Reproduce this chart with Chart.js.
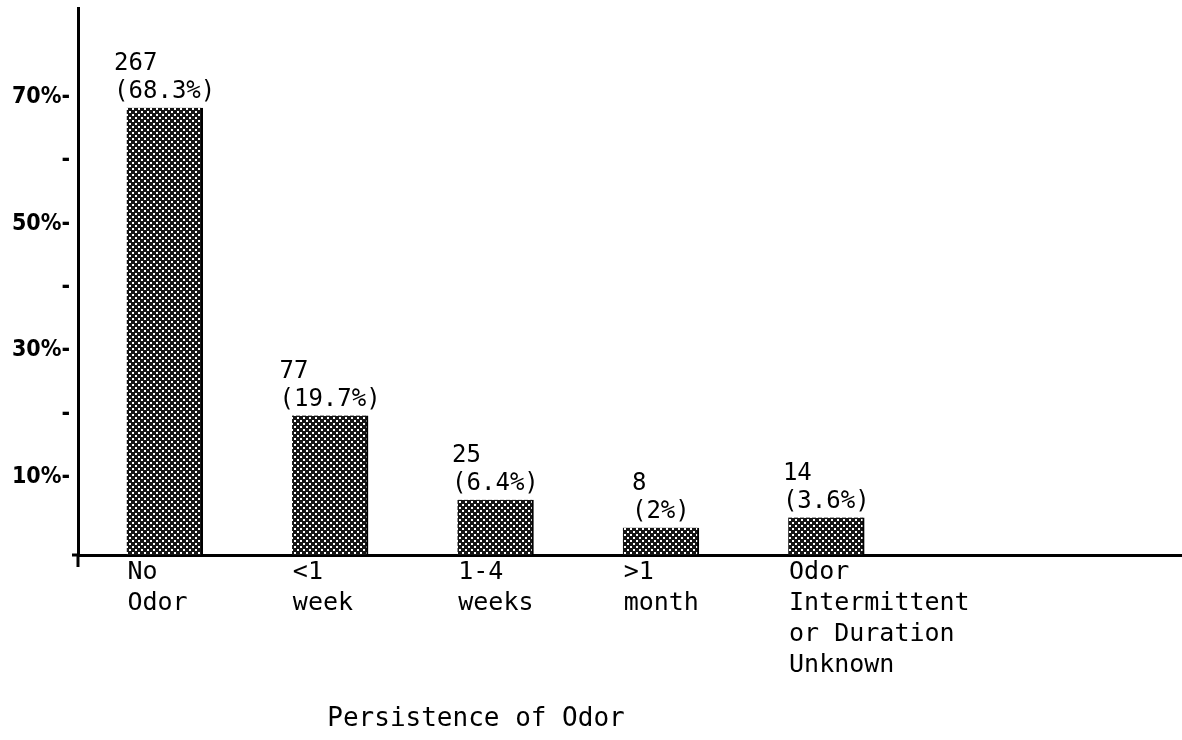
<!DOCTYPE html>
<html><head><meta charset="utf-8">
<script src="https://cdn.jsdelivr.net/npm/chart.js@4.4.1/dist/chart.umd.min.js"></script>
<style>html,body{margin:0;padding:0;background:#fff}#wrap{width:1182px;height:740px}</style>
</head><body><div id="wrap"><canvas id="c" width="1182" height="740"></canvas></div>
<script>
// ---- data ----
const categories = [['No','Odor'], ['<1','week'], ['1-4','weeks'], ['>1','month'], ['Odor','Intermittent','or Duration','Unknown']];
const counts = [267, 77, 25, 8, 14];
const percents = [68.3, 19.7, 6.4, 2, 3.6];
const yTickValues = [10, 20, 30, 40, 50, 60, 70];
const yLabeledTicks = [10, 30, 50, 70];
const xTitle = 'Persistence of Odor';

// ---- style / layout ----
const MONO = "'DejaVu Sans Mono', 'Liberation Mono', monospace";
const NARROW = "'Liberation Sans Narrow', 'DejaVu Sans Condensed', 'Arial Narrow', sans-serif";
const Y_MIN = -2.32, Y_MAX = 84.05;
const X_MIN = -0.524, X_MAX = 6.151;
const LABEL_SHIFT = -0.225;

const ctx = document.getElementById('c').getContext('2d');

function makePattern() {
  const p = document.createElement('canvas');
  p.width = 6; p.height = 6;
  const g = p.getContext('2d');
  g.fillStyle = '#151515'; g.fillRect(0, 0, 6, 6);
  g.fillStyle = '#ffffff';
  g.fillRect(0, 0, 2, 2);
  g.fillRect(3, 3, 2, 2);
  return ctx.createPattern(p, 'repeat');
}
const pattern = makePattern();

const extrasPlugin = {
  id: 'extras',
  afterDatasetsDraw(chart) {
    const c = chart.ctx;
    const meta = chart.getDatasetMeta(0);
    c.save();
    c.fillStyle = '#000';
    c.font = '24px ' + MONO;
    c.textAlign = 'left';
    c.textBaseline = 'alphabetic';
    meta.data.forEach((bar, i) => {
      const l1 = String(counts[i]);
      const l2 = '(' + percents[i] + '%)';
      const w2 = c.measureText(l2).width;
      const x0 = bar.x - w2 / 2;
      c.fillText(l2, x0, bar.y - 10);
      c.fillText(l1, x0, bar.y - 38);
    });
    c.font = '26px ' + MONO;
    c.textAlign = 'center';
    c.fillText(xTitle, 476, 726);
    const ca = chart.chartArea;
    c.strokeStyle = '#000';
    c.lineWidth = 3;
    c.beginPath(); c.moveTo(ca.left, ca.bottom); c.lineTo(ca.left, ca.bottom + 12); c.stroke();
    c.beginPath(); c.moveTo(ca.left - 6, ca.bottom); c.lineTo(ca.left, ca.bottom); c.stroke();
    c.restore();
  }
};

new Chart(ctx, {
  type: 'bar',
  data: {
    datasets: [{
      data: percents.map((v, i) => ({ x: i, y: v })),
      backgroundColor: pattern,
      borderColor: '#000',
      borderWidth: { top: 0, right: 2, bottom: 0, left: 0 },
      borderSkipped: false,
      barThickness: 76,
      base: Y_MIN
    }]
  },
  options: {
    responsive: false,
    animation: false,
    layout: { padding: { top: 8, right: 0, left: 0, bottom: 0 } },
    plugins: { legend: { display: false }, tooltip: { enabled: false } },
    scales: {
      x: {
        type: 'linear', min: X_MIN, max: X_MAX, offset: false,
        grid: { display: false, drawTicks: false },
        border: { display: true, color: '#000', width: 3 },
        afterBuildTicks: s => { s.ticks = categories.map((c, i) => ({ value: i + LABEL_SHIFT })); },
        afterFit: s => { s.height = 185; s.paddingLeft = 0; s.paddingRight = 0; },
        ticks: {
          align: 'start', padding: 2, maxRotation: 0, minRotation: 0, autoSkip: false,
          color: '#000', font: { family: MONO, size: 25, lineHeight: 1.24 },
          callback: (v, idx) => categories[idx]
        }
      },
      y: {
        min: Y_MIN, max: Y_MAX,
        grid: { display: false, drawTicks: false },
        border: { display: true, color: '#000', width: 3 },
        afterBuildTicks: s => { s.ticks = yTickValues.map(v => ({ value: v })); },
        afterFit: s => { s.width = 78; s.paddingTop = 0; s.paddingBottom = 0; },
        ticks: {
          padding: 8, color: '#000',
          font: { family: NARROW, size: 23, weight: 'bold' },
          callback: v => yLabeledTicks.includes(v) ? v + '%-' : '-'
        }
      }
    }
  },
  plugins: [extrasPlugin]
});
</script>
</body></html>
